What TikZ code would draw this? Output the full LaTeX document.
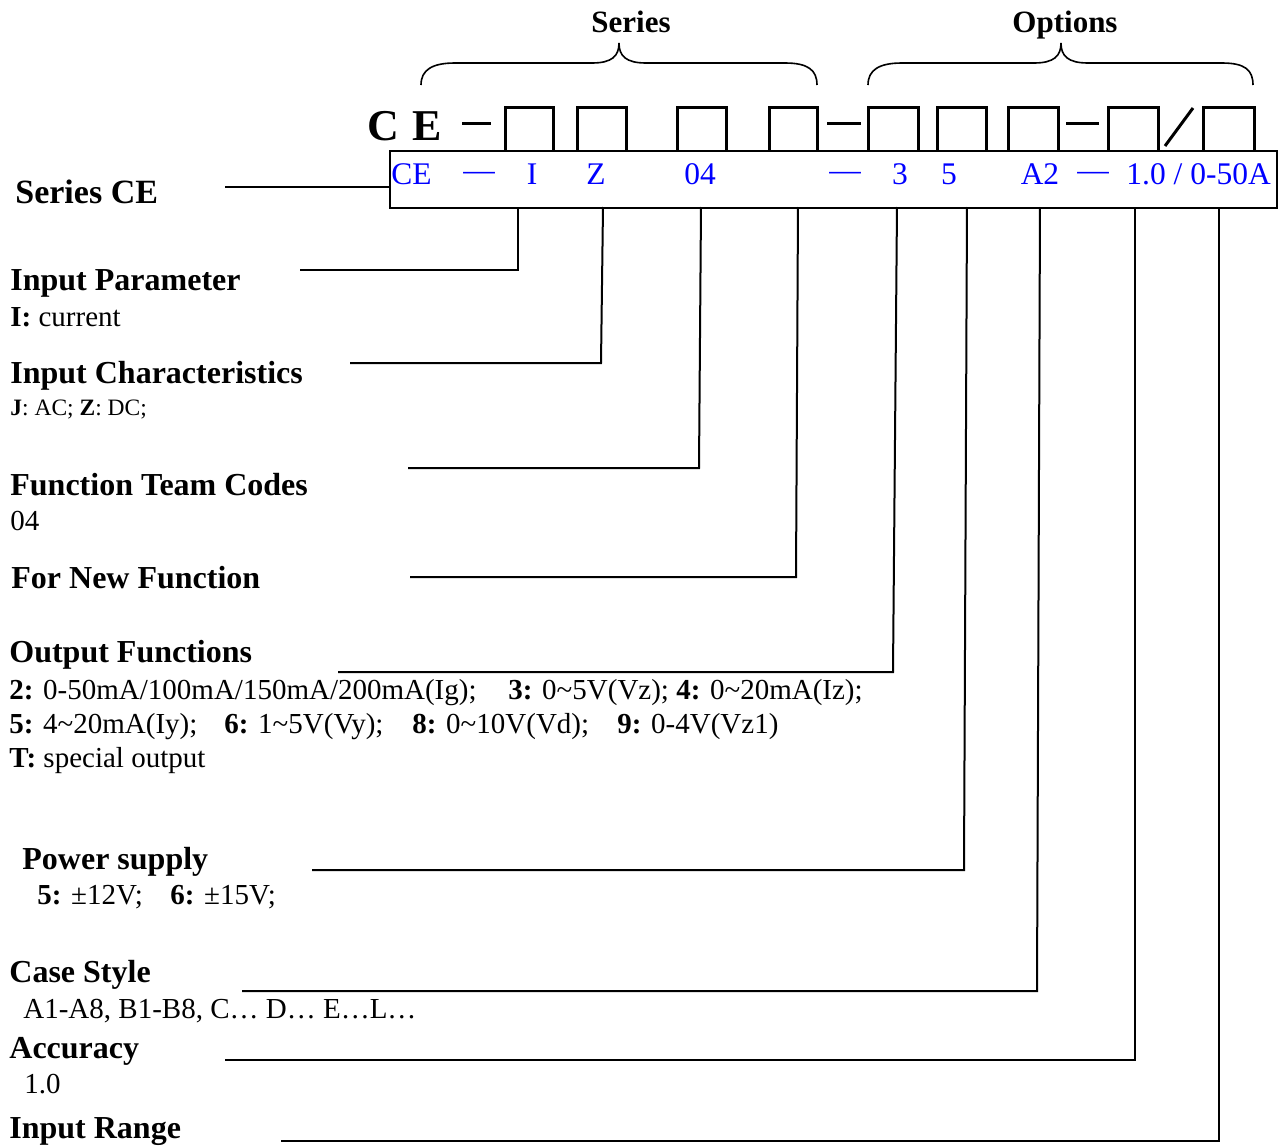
\documentclass[tikz,border=0pt]{standalone}
\usepackage{fontspec}
\setmainfont{Liberation Serif}
\begin{document}
\begin{tikzpicture}[x=0.5pt,y=-0.5pt,
  headtxt/.style={anchor=base west,inner sep=0pt,font=\fontsize{16}{19}\selectfont\bfseries},
  bodytxt/.style={anchor=base west,inner sep=0pt,font=\fontsize{14.5}{17}\selectfont},
  smalltxt/.style={anchor=base west,inner sep=0pt,font=\fontsize{11.75}{14}\selectfont},
  codetxt/.style={anchor=base,inner sep=0pt,text=blue,font=\fontsize{15.75}{18}\selectfont},
  slotline/.style={line width=1.5pt,line join=miter},
  connline/.style={line width=1pt},
  braceline/.style={line width=0.8pt},
]
\useasboundingbox (0,0) rectangle (1282,1146);

% group labels and braces
\node[anchor=base,inner sep=0pt,font=\fontsize{15.5}{18}\selectfont\bfseries] (series) at (631,32) {Series};
\node[anchor=base,inner sep=0pt,font=\fontsize{15.5}{18}\selectfont\bfseries] (options) at (1065,32) {Options};
\draw[braceline] (421,85) .. controls (421,70) and (432,63) .. (455,63) -- (592,63)
  .. controls (612,63) and (619,56) .. (619,43) .. controls (619,56) and (626,63) .. (646,63)
  -- (785,63) .. controls (808,63) and (817,70) .. (817,85);
\draw[braceline] (868,85) .. controls (868,70) and (879,63) .. (902,63) -- (1034,63)
  .. controls (1054,63) and (1061,56) .. (1061,43) .. controls (1061,56) and (1068,63) .. (1088,63)
  -- (1222,63) .. controls (1245,63) and (1253,70) .. (1253,85);

% model code heading
\node[anchor=base west,inner sep=0pt,font=\fontsize{22}{26}\selectfont\bfseries] (bigC) at (367,140) {C};
\node[anchor=base west,inner sep=0pt,font=\fontsize{22}{26}\selectfont\bfseries] (bigE) at (412,140) {E};
\draw[slotline] (462,123) -- (491,123);
\draw[slotline] (505,150) |- (553,107) -- (553,150);
\draw[slotline] (577,150) |- (626,107) -- (626,150);
\draw[slotline] (677,150) |- (726,107) -- (726,150);
\draw[slotline] (769,150) |- (817,107) -- (817,150);
\draw[slotline] (827,123) -- (861,123);
\draw[slotline] (868,150) |- (918,107) -- (918,150);
\draw[slotline] (937,150) |- (986,107) -- (986,150);
\draw[slotline] (1008,150) |- (1058,107) -- (1058,150);
\draw[slotline] (1066,123) -- (1099,123);
\draw[slotline] (1108,150) |- (1158,107) -- (1158,150);
\draw[slotline] (1165,146) -- (1193,108);
\draw[slotline] (1203,150) |- (1254,107) -- (1254,150);

% example bar
\node[draw,line width=1pt,inner sep=0pt,anchor=north west,minimum width=443.5pt,minimum height=28.5pt] (bar) at (389,150) {};
\node[codetxt,anchor=base west] (cCE) at (391,184) {CE};
\node[codetxt] (cd1) at (479,180) {—};
\node[codetxt] (cI) at (532,184) {I};
\node[codetxt] (cZ) at (596,184) {Z};
\node[codetxt] (c04) at (700,184) {04};
\node[codetxt] (cd2) at (845,180) {—};
\node[codetxt] (c3) at (900,184) {3};
\node[codetxt] (c5) at (949,184) {5};
\node[codetxt] (cA2) at (1040,184) {A2};
\node[codetxt] (cd3) at (1093,180) {—};
\node[codetxt,anchor=base west] (cR) at (1126,184) {1.0 / 0-50A};

% labels
\node[headtxt,font=\fontsize{17}{20}\selectfont\bfseries] (hSeries) at (15,203) {Series CE};
\node[headtxt] (hIP) at (10,290) {Input Parameter};
\node[bodytxt] (tIP) at (10,326) {\textbf{I:} current};
\node[headtxt] (hIC) at (10,383) {Input Characteristics};
\node[smalltxt] (tIC) at (10,415) {\textbf{J}: AC; \textbf{Z}: DC;};
\node[headtxt] (hFT) at (10,495) {Function Team Codes};
\node[bodytxt] (tFT) at (10,530) {04};
\node[headtxt] (hNF) at (11,588) {For New Function};
\node[headtxt] (hOF) at (9,662) {Output Functions};
\node[bodytxt] (tOF1a) at (9,699) {\textbf{2:} 0-50mA/100mA/150mA/200mA(Ig);};
\node[bodytxt] (tOF1b) at (508,699) {\textbf{3:} 0\textasciitilde5V(Vz); \textbf{4:} 0\textasciitilde20mA(Iz);};
\node[bodytxt] (tOF2a) at (9,733) {\textbf{5:} 4\textasciitilde20mA(Iy);};
\node[bodytxt] (tOF2b) at (224,733) {\textbf{6:} 1\textasciitilde5V(Vy);};
\node[bodytxt] (tOF2c) at (412,733) {\textbf{8:} 0\textasciitilde10V(Vd);};
\node[bodytxt] (tOF2d) at (617,733) {\textbf{9:} 0-4V(Vz1)};
\node[bodytxt] (tOF3) at (9,767) {\textbf{T:} special output};
\node[headtxt] (hPS) at (22,869) {Power supply};
\node[bodytxt] (tPSa) at (37,904) {\textbf{5:} ±12V;};
\node[bodytxt] (tPSb) at (170,904) {\textbf{6:} ±15V;};
\node[headtxt] (hCS) at (9,982) {Case Style};
\node[bodytxt] (tCS) at (23,1018) {A1-A8, B1-B8, C… D… E…L…};
\node[headtxt] (hAC) at (9,1058) {Accuracy};
\node[bodytxt] (tAC) at (24,1093) {1.0};
\node[headtxt] (hIR) at (9,1138) {Input Range};

% connector points
\coordinate (s0) at (225,187);
\coordinate (b0) at (389,187);
\draw[connline] (s0) -- (b0);

\coordinate (a1) at (518,207); \coordinate (k1) at (518,270); \coordinate (e1) at (300,270);
\coordinate (a2) at (603,207); \coordinate (k2) at (601,363); \coordinate (e2) at (350,363);
\coordinate (a3) at (701,207); \coordinate (k3) at (699,468); \coordinate (e3) at (408,468);
\coordinate (a4) at (798,207); \coordinate (k4) at (796,577); \coordinate (e4) at (410,577);
\coordinate (a5) at (897,207); \coordinate (k5) at (893,672); \coordinate (e5) at (338,672);
\coordinate (a6) at (967,207); \coordinate (k6) at (964,870); \coordinate (e6) at (312,870);
\coordinate (a7) at (1040,207); \coordinate (k7) at (1037,991); \coordinate (e7) at (242,991);
\coordinate (a8) at (1135,207); \coordinate (k8) at (1135,1060); \coordinate (e8) at (225,1060);
\coordinate (a9) at (1219,207); \coordinate (k9) at (1219,1141); \coordinate (e9) at (281,1141);
\foreach \i in {1,...,9}{\draw[connline] (a\i) -- (k\i) -- (e\i);}
\end{tikzpicture}
\end{document}
